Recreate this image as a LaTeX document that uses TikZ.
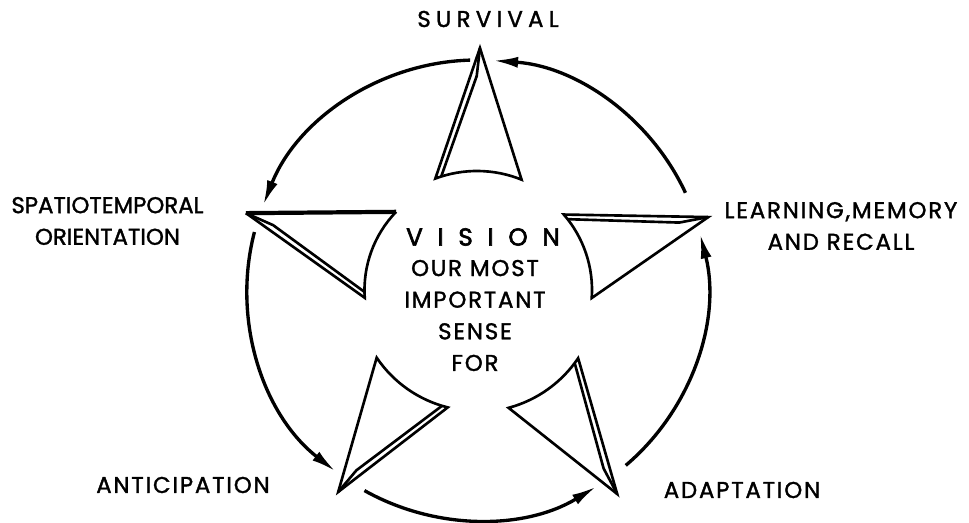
\documentclass[tikz,border=0pt]{standalone}
\usepackage{fontspec}
\setmainfont{Poppins}
\newfontfamily\handfont[LetterSpace=8,FakeBold=1.5]{Poppins}
\newfontfamily\tightfont[LetterSpace=0,FakeBold=1.5]{Poppins}
\newfontfamily\loosefont[LetterSpace=23,FakeBold=1.5]{Poppins}
\newfontfamily\widefont[LetterSpace=60,FakeBold=2.5]{Poppins}
\usepackage{tikz}
\usetikzlibrary{arrows.meta, calc}

\begin{document}
\begin{tikzpicture}[
  every node/.style={font=\handfont\fontsize{13}{18}\selectfont, inner sep=0pt},
  blade/.style={line width=1.5pt, line join=miter},
  flow/.style={line width=1.9pt, -{Latex[length=5mm,width=2.2mm]}}]
  \useasboundingbox (-9.54,-4.66) rectangle (9.84,5.8);

  % labels round the wheel
  \node[font=\loosefont\fontsize{13}{18}\selectfont] (survival) at (0.22,5.42) {SURVIVAL};
  \node[align=center, font=\tightfont\fontsize{13}{18}\selectfont] (orient) at (-7.39,1.38) {SPATIOTEMPORAL\\ORIENTATION};
  \node[align=center] (learn) at (7.28,1.28) {LEARNING,MEMORY\\AND RECALL};
  \node (anticip) at (-5.88,-3.9) {ANTICIPATION};
  \node (adapt) at (5.3,-4.0) {ADAPTATION};
  \node[font=\widefont\fontsize{14}{18}\selectfont] (vision) at (0.12,1.06) {VISION};
  \node[align=center] (sense) at (-0.04,-0.51) {OUR MOST\\IMPORTANT\\SENSE\\FOR};

  % star points
  \coordinate (tip-s) at (89.3:4.84);
  \coordinate (tip-o) at (161.6:4.87);
  \coordinate (tip-l) at (17.5:4.85);
  \coordinate (tip-a) at (235.5:4.90);
  \coordinate (tip-d) at (304.5:4.95);
  \coordinate (cor-s) at (110.5:2.38);
  \coordinate (cor-o) at (184:2.25);
  \coordinate (cor-l) at (41:2.3);
  \coordinate (cor-a) at (256:2.42);
  \coordinate (cor-d) at (326:2.44);

  \draw[blade] (tip-s) -- (cor-s) arc[start angle=110.5, end angle=68, radius=2.38] -- cycle;
  \draw[blade] (tip-s) -- ($(tip-s)!0.2!(cor-s)!0.12cm!90:(cor-s)$) -- (107.5:2.38);
  \draw[blade] (tip-o) -- (cor-o) arc[start angle=184, end angle=136, radius=2.25];
  \draw[blade, line width=2.4pt] (136:2.25) -- (tip-o);
  \draw[blade] (tip-o) -- ($(tip-o)!0.2!(cor-o)!0.12cm!90:(cor-o)$) -- (181:2.25);
  \draw[blade] (tip-l) -- (cor-l) arc[start angle=41, end angle=-4, radius=2.3] -- cycle;
  \draw[blade] (tip-l) -- ($(tip-l)!0.2!(cor-l)!0.12cm!90:(cor-l)$) -- (38:2.3);
  \draw[blade] (tip-a) -- (cor-a) arc[start angle=256, end angle=214, radius=2.42] -- cycle;
  \draw[blade] (tip-a) -- ($(tip-a)!0.2!(cor-a)!0.12cm!90:(cor-a)$) -- (253.2:2.42);
  \draw[blade] (tip-d) -- (cor-d) arc[start angle=326, end angle=285, radius=2.44] -- cycle;
  \draw[blade] (tip-d) -- ($(tip-d)!0.2!(cor-d)!0.12cm!90:(cor-d)$) -- (323.2:2.44);

  % arrows of the cycle
  \coordinate (l-out) at (25:4.6);
  \coordinate (s-out) at (91.7:4.6);
  \coordinate (o-out) at (165.4:4.6);
  \coordinate (a-out) at (240.7:4.6);
  \coordinate (d-out) at (310.3:4.6);
  \draw[flow] (l-out) arc[start angle=25, end angle=86, radius=4.6];
  \draw[flow] (s-out) arc[start angle=91.7, end angle=158.4, radius=4.6];
  \draw[flow] (o-out) arc[start angle=165.4, end angle=232.1, radius=4.6];
  \draw[flow] (a-out) arc[start angle=240.7, end angle=301.3, radius=4.6];
  \draw[flow] (d-out) arc[start angle=310.3, end angle=374.2, radius=4.6];
\end{tikzpicture}
\end{document}
